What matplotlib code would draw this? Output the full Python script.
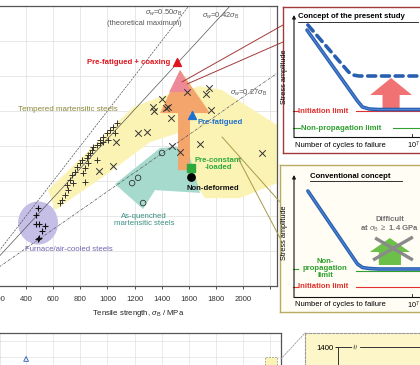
import numpy as np
import matplotlib
matplotlib.use('Agg')
import matplotlib.pyplot as plt
from matplotlib.patches import Polygon, Ellipse, FancyArrow, Rectangle, ConnectionPatch

plt.rcParams['font.family'] = ['Liberation Sans', 'DejaVu Sans']
plt.rcParams['mathtext.fontset'] = 'custom'
plt.rcParams['mathtext.rm'] = 'Liberation Sans'
plt.rcParams['mathtext.it'] = 'Liberation Sans:italic'
plt.rcParams['mathtext.bf'] = 'Liberation Sans:bold'

# ---- data (tensile strength sigma_B, fatigue limit sigma_w ; MPa) ----
tm_sb = [1750, 1727, 1587, 1403, 1337, 1344, 1432, 1447, 1469, 1764, 1226, 1292,
         1064, 1477, 1536, 1683, 2140, 938, 1042]
tm_sw = [566, 549, 554, 534, 511, 500, 509, 511, 480, 503, 437, 440,
         411, 400, 383, 406, 380, 329, 343]
tm2_sb = [651, 665, 688, 710, 702, 724, 739, 761, 776, 798, 813, 820, 835, 850, 857,
          872, 887, 894, 924, 946, 968, 835, 747, 857, 924, 1071, 1042, 1019, 997,
          968, 946, 1056, 1005]
tm2_sw = [237, 246, 260, 274, 289, 303, 317, 326, 340, 351, 360, 323, 337, 366, 374,
          380, 389, 397, 403, 409, 411, 297, 294, 351, 360, 466, 454, 446, 437,
          426, 417, 437, 417]
fc_sb = [488, 474, 474, 496, 540, 518, 488, 496]
fc_sw = [223, 203, 177, 177, 171, 157, 134, 137]
aq_sb = [1403, 1182, 1226, 1263]
aq_sw = [380, 294, 309, 237]

coax_pt = (1513, 640)
prefat_pt = (1624, 489)
precon_pt = (1613, 337)
nondef_pt = (1620, 312)

ratios = [0.50, 0.42, 0.27]

tm_region = [(614, 217), (562, 274), (1189, 511), (1388, 540), (1683, 571), (1845, 560),
             (2251, 460), (2251, 294), (1978, 251), (1720, 251), (1609, 317),
             (1521, 437), (1314, 411), (1019, 326)]
aq_region = [(1056, 291), (1388, 394), (1587, 400), (1683, 266), (1351, 274), (1263, 220)]
fc_center = (488, 180)
fc_size = (295, 123)

arrow_region = [(1536, 617), (1757, 494), (1609, 494), (1609, 331), (1521, 331),
                (1521, 494), (1388, 494)]
pink_region = [(1536, 617), (1617, 554), (1455, 554)]

xticks = [200, 400, 600, 800, 1000, 1200, 1400, 1600, 1800, 2000]

# schematic S-N curves (log10 N, stress amplitude in arbitrary units)
present_logn = [3.44, 5.15, 5.32, 5.55, 5.85, 10.8]
present_amp = [107, 36, 30, 28, 27.5, 27.5]
coax_logn = [3.47, 4.85, 5.0, 5.2, 5.5, 10.8]
coax_amp = [112, 65, 62, 61, 61, 61]
conv_logn = [3.47, 5.15, 5.32, 5.55, 5.85, 10.8]
conv_amp = [106, 33, 29.5, 28.5, 28, 28]

# lower (cropped) plot
lo_sb = [400]
lo_val = [1386]


def px_box(l, t, r, b):
    return [l / 420, (365 - b) / 365, (r - l) / 420, (b - t) / 365]


fig = plt.figure(figsize=(4.2, 3.65), dpi=100)

# ---------------- main plot ----------------
ax = fig.add_axes(px_box(-1, 6, 277, 286))
ax.set_xlim(200, 2251)
ax.set_ylim(0, 800)
ax.set_xticks(np.arange(200, 2260, 200))
ax.set_xticklabels([str(v) for v in xticks] + [''])
ax.set_yticks(np.arange(0, 801, 100))
ax.set_yticklabels([])
ax.tick_params(axis='x', direction='out', length=2.5, width=0.6, pad=5,
               labelsize=5.6, colors='#333333')
ax.tick_params(axis='y', length=0)
ax.grid(True, color='#e4e4e4', lw=0.6)
ax.set_axisbelow(True)
for s in ['top', 'right', 'bottom']:
    ax.spines[s].set_color('#555555')
    ax.spines[s].set_linewidth(0.9)
ax.spines['left'].set_visible(False)
ax.set_xlabel(r'Tensile strength, $\sigma_{\rm B}$ / MPa', fontsize=5.6,
              labelpad=3.5, color='#222222')

ax.add_patch(Polygon(tm_region, closed=True, fc='#fbf3b4', ec='none', zorder=1))
ax.add_patch(Polygon(aq_region, closed=True, fc='#a6dacd', ec='none', zorder=1))
ax.add_patch(Ellipse(fc_center, fc_size[0], fc_size[1], fc='#c5bee6', ec='none', zorder=1))
ax.add_patch(Polygon(arrow_region, closed=True, fc='#f3a56c', ec='none', zorder=2))
ax.add_patch(Polygon(pink_region, closed=True, fc='#ee8a98', ec='none', zorder=2))

xx = np.array([0, 2400])
ax.plot(xx, ratios[0] * xx, color='#555555', lw=0.5, ls=(0, (3, 1.5)), zorder=3)
ax.plot(xx, ratios[1] * xx, color='#555555', lw=0.5, zorder=3)
ax.plot(xx, ratios[2] * xx, color='#555555', lw=0.5, ls=(0, (4, 1.5, 1, 1.5)), zorder=3)

ax.scatter(tm_sb, tm_sw, marker='x', s=22, lw=0.7, color='#333333', zorder=4)
ax.scatter(tm2_sb, tm2_sw, marker='+', s=20, lw=0.7, color='#333333', zorder=4)
ax.scatter(fc_sb, fc_sw, marker='+', s=24, lw=0.8, color='#111111', zorder=4)
ax.scatter(aq_sb, aq_sw, marker='o', s=16, lw=0.6, facecolor='none',
           edgecolor='#333333', zorder=4)
ax.scatter(*coax_pt, marker='^', s=32, color='#e0141e', zorder=5)
ax.scatter(*prefat_pt, marker='^', s=32, color='#1f6fd0', zorder=5)
ax.scatter(*precon_pt, marker='s', s=28, color='#2eaa3c', zorder=5)
ax.scatter(*nondef_pt, marker='o', s=28, color='#000000', zorder=5)

tc = '#555555'
ax.text(1550, 780, r'$\sigma_{w}$=0.50$\sigma_{\rm B}$', fontsize=5.4, color=tc,
        ha='right', va='center')
ax.text(1550, 751, '(theoretical maximum)', fontsize=5.4, color=tc, ha='right', va='center')
ax.text(1698, 771, r'$\sigma_{w}$=0.42$\sigma_{\rm B}$', fontsize=5.4, color=tc,
        ha='left', va='center')
ax.text(1904, 551, r'$\sigma_{w}$=0.27$\sigma_{\rm B}$', fontsize=5.4, color=tc,
        ha='left', va='center')
ax.text(1465, 640, 'Pre-fatigued + coaxing', fontsize=5.6, color='#e0141e',
        fontweight='bold', ha='right', va='center', zorder=6)
ax.text(341, 503, 'Tempered martensitic steels', fontsize=5.8, color='#8a8838',
        ha='left', va='center')
ax.text(1668, 466, 'Pre-fatigued', fontsize=5.6, color='#1f6fd0', fontweight='bold',
        ha='left', va='center', zorder=6)
ax.text(1816, 349, 'Pre-constant\n-loaded', fontsize=5.6, color='#2eaa3c',
        fontweight='bold', ha='center', va='center', linespacing=1.0, zorder=6)
ax.text(1587, 280, 'Non-deformed', fontsize=5.6, color='#111111', fontweight='bold',
        ha='left', va='center', zorder=6)
ax.text(1270, 189, 'As-quenched\nmartensitic steels', fontsize=5.6, color='#3a8f82',
        ha='center', va='center', linespacing=1.1)
ax.text(393, 103, 'Furnace/air-cooled steels', fontsize=5.6, color='#7462b0',
        ha='left', va='center')


# ---------------- right boxes ----------------
def concept_box(rect, ylim, fc, ec):
    b = fig.add_axes(rect)
    b.set_xlim(2.6, 10.7)
    b.set_ylim(*ylim)
    b.set_facecolor(fc)
    for s in b.spines.values():
        s.set_color(ec)
        s.set_linewidth(1.0)
    b.set_xticks([])
    b.set_yticks([])
    b.annotate('', xy=(3, 122), xytext=(3, -0.5),
               arrowprops=dict(arrowstyle='-|>', lw=0.8, color='#111111',
                               mutation_scale=5, shrinkA=0, shrinkB=0))
    b.plot([3, 10.8], [0, 0], color='#111111', lw=0.8)
    b.plot([7, 7], [0, 3.5], color='#111111', lw=0.6)
    b.text(3.03, -8, 'Number of cycles to failure', fontsize=5.5, ha='left', va='center')
    b.text(7.05, -8, r'10$^7$', fontsize=5.2, ha='center', va='center')
    return b


b1 = concept_box(px_box(283, 7, 520, 153), (-16, 130), '#ffffff', '#a23a3a')
b1.set_xlim(2.627, 10.66)
b1.text(3.14, 120, 'Concept of the present study', fontsize=5.6, fontweight='bold',
        ha='left', va='center')
b1.plot([3.14, 7.2], [115.5, 115.5], color='#111111', lw=0.6)
b1.text(2.69, 60, 'Stress amplitude', fontsize=5.3, rotation=90, ha='center', va='center')
b1.plot(coax_logn, coax_amp, color='#2a5fb0', lw=2.6, ls=(0, (2.2, 1.6)),
        solid_capstyle='round', dash_capstyle='round')
b1.plot([2.95, 3.12], [26, 26], color='#e03030', lw=0.8)
b1.plot([5.1, 10.8], [25.8, 25.8], color='#e03030', lw=0.8)
b1.plot(present_logn, present_amp, color='#2a5fb0', lw=2.6, solid_capstyle='round')
b1.plot(present_logn, present_amp, color='#4f86d4', lw=0.8)
b1.text(3.14, 26, 'Initiation limit', fontsize=5.6, color='#e03030', fontweight='bold',
        ha='left', va='center')
b1.plot([2.95, 3.22], [9, 9], color='#30a030', lw=0.8)
b1.plot([6.35, 10.8], [9, 9], color='#30a030', lw=0.8)
b1.text(3.25, 9, 'Non-propagation limit', fontsize=5.6, color='#30a030',
        fontweight='bold', ha='left', va='center')
b1.add_patch(FancyArrow(6.29, 29, 0, 30, width=0.58, head_width=1.42, head_length=17,
                        length_includes_head=True, fc='#f07272', ec='none'))

b2 = concept_box(px_box(280, 165, 520, 312), (-15, 132), '#fffdf4', '#b8ab62')
b2.set_xlim(2.525, 10.66)
b2.text(3.54, 121, 'Conventional concept', fontsize=5.6, fontweight='bold',
        ha='left', va='center')
b2.plot([3.54, 6.66], [116.5, 116.5], color='#111111', lw=0.6)
b2.text(2.69, 64, 'Stress amplitude', fontsize=5.3, rotation=90, ha='center', va='center')
b2.plot([2.95, 3.15], [28, 28], color='#30a030', lw=0.8)
b2.plot([5.1, 10.8], [26.3, 26.3], color='#30a030', lw=0.8)
b2.plot(conv_logn, conv_amp, color='#2a5fb0', lw=2.6, solid_capstyle='round')
b2.plot(conv_logn, conv_amp, color='#4f86d4', lw=0.8)
b2.text(4.05, 28.5, 'Non-\npropagation\nlimit', fontsize=5.6, color='#30a030',
        fontweight='bold', ha='center', va='center', linespacing=0.95)
b2.plot([2.95, 3.12], [10, 10], color='#e03030', lw=0.8)
b2.plot([5.1, 10.8], [10, 10], color='#e03030', lw=0.8)
b2.text(3.14, 10, 'Initiation limit', fontsize=5.6, color='#e03030', fontweight='bold',
        ha='left', va='center')
b2.text(6.25, 72, 'Difficult\n' + r'at $\sigma_{\rm B}$ $\geq$ 1.4 GPa', fontsize=5.6,
        color='#707070', fontweight='bold', ha='center', va='center', linespacing=1.1)
b2.add_patch(FancyArrow(6.25, 32, 0, 27, width=0.75, head_width=1.36, head_length=14,
                        length_includes_head=True, fc='#6cbf48', ec='none'))
b2.plot([5.75, 7.03], [59, 37], color='#8a8a8a', lw=2.4, solid_capstyle='butt')
b2.plot([5.68, 7.03], [37, 60], color='#8a8a8a', lw=2.4, solid_capstyle='butt')

# connectors
for ya, yb in [((1550, 583), (2.627, 112)), ((1587, 577), (2.627, 95))]:
    fig.add_artist(ConnectionPatch(xyA=ya, coordsA=ax.transData, xyB=yb,
                                   coordsB=b1.transData, color='#a23a3a', lw=0.7))
for ya, yb in [((1845, 426), (2.525, 95)), ((1963, 366), (2.525, 59))]:
    fig.add_artist(ConnectionPatch(xyA=ya, coordsA=ax.transData, xyB=yb,
                                   coordsB=b2.transData, color='#a89a48', lw=0.7))

# ---------------- lower plot (cropped) ----------------
ax2 = fig.add_axes(px_box(-1, 333, 281, 420))
ax2.set_xlim(200, 2280)
ax2.set_ylim(1000, 1550)
ax2.set_xticks(np.arange(400, 2280, 200))
ax2.set_yticks([1300, 1400, 1500])
ax2.tick_params(length=0, labelbottom=False, labelleft=False)
ax2.grid(True, color='#e6e6e6', lw=0.6)
ax2.set_axisbelow(True)
for s in ax2.spines.values():
    s.set_color('#555555')
    s.set_linewidth(0.9)
ax2.scatter(lo_sb, lo_val, marker='^', s=12, lw=0.6, facecolor='none',
            edgecolor='#2a5fb0', zorder=4)
ax2.add_patch(Rectangle((2162, 1000), 88, 398, fc='#fbf3b4', ec='#999999', lw=0.6,
                        ls=(0, (2, 1.5)), zorder=2))

b3 = fig.add_axes(px_box(305, 333, 520, 430))
b3.set_facecolor('#fdf6c8')
b3.set_xticks([])
b3.set_yticks([])
for s in b3.spines.values():
    s.set_color('#999999')
    s.set_linewidth(0.8)
    s.set_linestyle((0, (2, 1.5)))
fig.add_artist(ConnectionPatch(xyA=(2280, 1386), coordsA=ax2.transData, xyB=(0, 1),
                               coordsB=b3.transAxes, color='#999999', lw=0.6,
                               ls=(0, (2, 1.5))))

b4 = fig.add_axes(px_box(338, 347, 520, 430))
b4.set_facecolor('none')
b4.set_ylim(1100, 1400)
b4.set_xlim(0, 10)
b4.set_yticks([1400])
b4.set_xticks([])
b4.tick_params(axis='y', length=2, width=0.6, labelsize=5.6, pad=1.5)
b4.spines['right'].set_visible(False)
b4.spines['bottom'].set_visible(False)
for s in ['left', 'top']:
    b4.spines[s].set_color('#333333')
    b4.spines[s].set_linewidth(0.7)
b4.text(1.0, 1400, r'$\approx$', fontsize=6, ha='center', va='center',
        rotation=80, color='#333333', bbox=dict(fc='#fdf6c8', ec='none', pad=0.3))

fig.savefig('out.png', dpi=100)
